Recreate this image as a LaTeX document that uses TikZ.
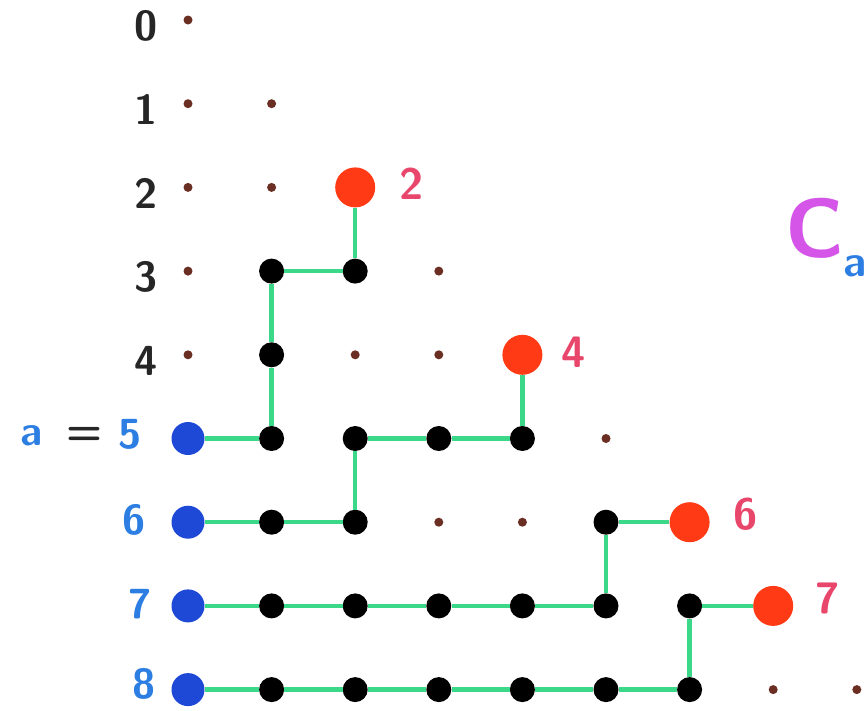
\documentclass[tikz,border=0pt]{standalone}
\usepackage{fontspec}
\setsansfont{Latin Modern Sans}
\definecolor{dotbrown}{HTML}{6B2E22}
\definecolor{pblue}{HTML}{1E48D6}
\definecolor{pred}{HTML}{FF3A14}
\definecolor{pgreen}{HTML}{3CD88A}
\definecolor{lblred}{HTML}{E8466A}
\definecolor{lblblue}{HTML}{2C7EE2}
\definecolor{pmag}{HTML}{D455E8}
\tikzset{
  x=1pt, y=-1pt,
  sdot/.style={circle, fill=dotbrown, inner sep=0pt, minimum size=9pt},
  bdot/.style={circle, fill=black, inner sep=0pt, minimum size=25pt},
  bluedot/.style={circle, fill=pblue, inner sep=0pt, minimum size=33pt},
  reddot/.style={circle, fill=pred, inner sep=0pt, minimum size=40pt},
  link/.style={draw=pgreen, line width=4.5pt},
  rowlbl/.style={font=\sffamily\bfseries\fontsize{42}{42}\selectfont, text=black!85, inner sep=0pt},
  bluelbl/.style={font=\sffamily\bfseries\fontsize{42}{42}\selectfont, text=lblblue, inner sep=0pt},
  redlbl/.style={font=\sffamily\bfseries\fontsize{44}{44}\selectfont, text=lblred, inner sep=0pt},
}
\newcommand{\gx}[1]{188+83.6*#1}
\newcommand{\gy}[1]{20+83.7*#1}
\begin{document}
\begin{tikzpicture}
\useasboundingbox (0,0) rectangle (868,710);
\clip (0,0) rectangle (868,710);
\fill[white] (0,0) rectangle (868,710);
% small dots
\foreach \c/\r in {0/0, 0/1,1/1, 0/2,1/2, 0/3,3/3, 0/4,2/4,3/4, 5/5, 3/6,4/6, 7/8,8/8}
  \node[sdot] (n-\c-\r) at ({\gx{\c}},{\gy{\r}}) {};
% black dots
\foreach \c/\r in {1/3,2/3, 1/4, 1/5,2/5,3/5,4/5, 1/6,2/6,5/6, 1/7,2/7,3/7,4/7,5/7,6/7, 1/8,2/8,3/8,4/8,5/8,6/8}
  \node[bdot] (n-\c-\r) at ({\gx{\c}},{\gy{\r}}) {};
% blue dots
\foreach \r in {5,6,7,8}
  \node[bluedot] (n-0-\r) at ({\gx{0}},{\gy{\r}}) {};
% red dots
\foreach \c/\r in {2/2, 4/4, 6/6, 7/7}
  \node[reddot] (n-\c-\r) at ({\gx{\c}},{\gy{\r}}) {};
% green links
\draw[link] (n-2-2) -- (n-2-3);
\draw[link] (n-1-3) -- (n-2-3);
\draw[link] (n-1-3) -- (n-1-4);
\draw[link] (n-1-4) -- (n-1-5);
\draw[link] (n-0-5) -- (n-1-5);
\draw[link] (n-2-5) -- (n-3-5);
\draw[link] (n-3-5) -- (n-4-5);
\draw[link] (n-4-5) -- (n-4-4);
\draw[link] (n-2-5) -- (n-2-6);
\draw[link] (n-0-6) -- (n-1-6);
\draw[link] (n-1-6) -- (n-2-6);
\foreach \a/\b in {0/1,1/2,2/3,3/4,4/5}
  \draw[link] (n-\a-7) -- (n-\b-7);
\draw[link] (n-5-7) -- (n-5-6);
\draw[link] (n-5-6) -- (n-6-6);
\foreach \a/\b in {0/1,1/2,2/3,3/4,4/5,5/6}
  \draw[link] (n-\a-8) -- (n-\b-8);
\draw[link] (n-6-8) -- (n-6-7);
\draw[link] (n-6-7) -- (n-7-7);
% row labels
\foreach \r in {0,1,2,3,4}
  \node[rowlbl] (l-\r) at (146,{\gy{\r}+6}) {\r};
\node[bluelbl] (la) at (32,436) {a};
\node[rowlbl] (leq) at (84,436) {=};
\node[bluelbl] (l-5) at (130,434) {5};
\node[bluelbl] (l-6) at (134,520) {6};
\node[bluelbl] (l-7) at (140,604) {7};
\node[bluelbl] (l-8) at (144,684) {8};
% red labels
\node[redlbl] (r-2) at (412,184) {2};
\node[redlbl] (r-4) at (574,352) {4};
\node[redlbl] (r-6) at (746,514) {6};
\node[redlbl] (r-7) at (828,598) {7};
% C_a
\node[font=\sffamily\bfseries\fontsize{84}{84}\selectfont, text=pmag, inner sep=0pt] (C) at (815,228) {C};
\node[font=\sffamily\bfseries\fontsize{44}{44}\selectfont, text=lblblue, inner sep=0pt] (Csub) at (855,266) {a};
\end{tikzpicture}
\end{document}
